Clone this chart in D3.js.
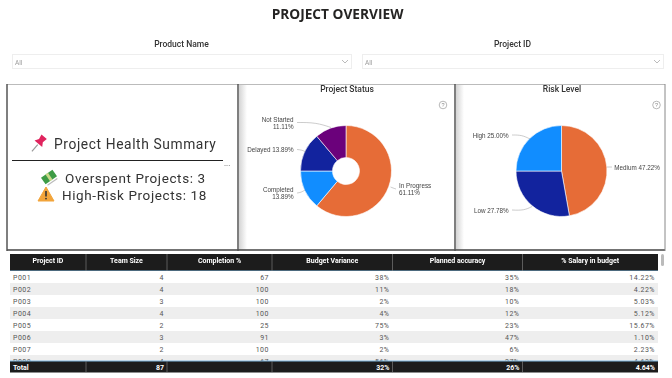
<!DOCTYPE html>
<html>
<head>
<meta charset="utf-8">
<script src="https://cdnjs.cloudflare.com/ajax/libs/d3/7.8.5/d3.min.js"></script>
<style>
  html, body { margin: 0; padding: 0; background: #fff; }
  svg { display: block; opacity: 0.999; }
</style>
</head>
<body>
<div id="chart"></div>
<script>
const statusLabels = ["In Progress", "Completed", "Delayed", "Not Started"];
const statusValues = [61.11, 13.89, 13.89, 11.11];
const riskLabels = ["Medium", "Low", "High"];
const riskValues = [47.22, 27.78, 25.00];

const columns = ["Project ID", "Team Size", "Completion %", "Budget Variance", "Planned accuracy", "% Salary in budget"];
const projectIds = ["P001", "P002", "P003", "P004", "P005", "P006", "P007", "P008"];
const teamSize = [4, 4, 3, 4, 2, 3, 2, 4];
const completion = [67, 100, 100, 100, 25, 91, 100, 67];
const budgetVariance = ["38%", "11%", "2%", "4%", "75%", "3%", "2%", "56%"];
const plannedAccuracy = ["35%", "18%", "10%", "12%", "23%", "47%", "6%", "27%"];
const salaryInBudget = ["14.22%", "4.22%", "5.03%", "5.12%", "15.67%", "1.10%", "2.23%", "4.63%"];
const totals = ["Total", "87", "", "32%", "26%", "4.64%"];

const width = 672;
const height = 378;
const din = "Roboto, sans-serif";
const arial = "'Liberation Sans', Arial, sans-serif";
const orange = "#E66C37", blue = "#118DFF", navy = "#12239E", purple = "#6B007B";

const svg = d3.select("#chart").append("svg")
  .attr("width", width)
  .attr("height", height);

const defs = svg.append("defs");
const shade = defs.append("linearGradient").attr("id", "shade");
shade.append("stop").attr("offset", 0).attr("stop-color", "#d4d4d4");
shade.append("stop").attr("offset", 1).attr("stop-color", "#fff");
defs.append("clipPath").attr("id", "rowsClip").append("rect")
  .attr("x", 10).attr("y", 271).attr("width", 648).attr("height", 90);

// title and slicers
svg.append("text").attr("x", 337.5).attr("y", 19)
  .attr("text-anchor", "middle")
  .style("font", "bold 13.7px 'Open Sans', sans-serif").style("fill", "#252423")
  .text("PROJECT OVERVIEW");

const slicers = [
  { name: "Product Name", x: 12, w: 339 },
  { name: "Project ID", x: 362, w: 301 }
];
slicers.forEach(s => {
  svg.append("text").attr("x", s.x + s.w / 2).attr("y", 47)
    .attr("text-anchor", "middle")
    .style("font", "500 8.5px " + din).style("fill", "#333")
    .text(s.name);
  svg.append("rect").attr("x", s.x + 0.5).attr("y", 54.5).attr("width", s.w).attr("height", 14)
    .attr("fill", "#fff").attr("stroke", "#eee");
  svg.append("text").attr("x", s.x + 3).attr("y", 64.5)
    .style("font", "6.5px " + din).style("fill", "#999").text("All");
  const cx = s.x + s.w - 6;
  svg.append("path").attr("d", d3.line()([[cx - 3, 60], [cx, 63], [cx + 3, 60]]))
    .attr("fill", "none").attr("stroke", "#aaa").attr("stroke-width", 0.8);
});

// panels
const panels = [
  { x: 7, w: 231 },
  { x: 238, w: 217 },
  { x: 455, w: 210 }
];
panels.forEach((p, i) => {
  if (i > 0) {
    svg.append("rect").attr("x", p.x + 1).attr("y", 85).attr("width", 8).attr("height", 165)
      .attr("fill", "url(#shade)");
  }
});
svg.append("line").attr("x1", 7).attr("x2", 665).attr("y1", 84.5).attr("y2", 84.5)
  .attr("stroke", "#bbb");
svg.append("line").attr("x1", 7).attr("x2", 665).attr("y1", 250).attr("y2", 250)
  .attr("stroke", "#444").attr("stroke-width", 1.5);
[7, 238, 455, 665].forEach((x, i) => {
  svg.append("line").attr("x1", x).attr("x2", x).attr("y1", 84).attr("y2", 251)
    .attr("stroke", i == 3 ? "#888" : "#555").attr("stroke-width", i == 3 ? 1 : 1.5);
});

// summary card
const summaryText = (x, y, size, txt) => svg.append("text")
  .attr("x", x).attr("y", y)
  .style("font", size + "px " + din).style("fill", "#333")
  .style("letter-spacing", "0.6px")
  .text(txt);
summaryText(54, 148.5, 13.8, "Project Health Summary");
svg.append("line").attr("x1", 12).attr("x2", 223).attr("y1", 160.5).attr("y2", 160.5)
  .attr("stroke", "#222").attr("stroke-width", 1.2);
svg.append("text").attr("x", 224).attr("y", 166)
  .style("font", "8px " + din).style("fill", "#555").text("...");
summaryText(65, 183, 13.5, "Overspent Projects: 3");
summaryText(62, 200, 13.5, "High-Risk Projects: 18");

// pin icon
const pin = svg.append("g").attr("transform", "translate(39,143) rotate(40)");
pin.append("line").attr("x1", 0).attr("x2", 0).attr("y1", 2).attr("y2", 11).attr("stroke", "#999").attr("stroke-width", 1.2);
pin.append("path").attr("d", "M-3.5,-8H3.5L2.5,-3L5,1H-5L-2.5,-3Z").attr("fill", "#E0245E");
// money icon
const money = svg.append("g").attr("transform", "translate(49,177) rotate(-35)");
money.append("rect").attr("x", -7).attr("y", -4).attr("width", 14).attr("height", 8).attr("fill", "#3E9B45");
money.append("rect").attr("x", -1.5).attr("y", -4).attr("width", 3).attr("height", 8).attr("fill", "#C9D98A");
money.append("line").attr("x1", -6).attr("x2", 6).attr("y1", 6).attr("y2", 6).attr("stroke", "#bbb").attr("stroke-width", 1.2);
// warning icon
svg.append("path").attr("d", "M46,187L54,201H38Z").attr("fill", "#F2A43A")
  .attr("stroke", "#F2A43A").attr("stroke-linejoin", "round");
svg.append("rect").attr("x", 45.2).attr("y", 191).attr("width", 1.6).attr("height", 5.5).attr("fill", "#333");
svg.append("circle").attr("cx", 46).attr("cy", 198.6).attr("r", 0.9).attr("fill", "#333");

// pies
function drawPie(title, titleX, cx, labels, values, colors, inner, helpX) {
  svg.append("text").attr("x", titleX).attr("y", 92)
    .attr("text-anchor", "middle")
    .style("font", "500 8.5px " + din).style("fill", "#333")
    .text(title);

  const pie = d3.pie().sort(null)(values);
  const color = d3.scaleOrdinal().domain(labels).range(colors);
  const arc = d3.arc().innerRadius(inner).outerRadius(45.5);

  svg.append("g").attr("transform", `translate(${cx},171)`)
    .selectAll("path")
    .data(pie)
    .join("path")
    .attr("d", arc)
    .attr("fill", (d, i) => color(labels[i]))
    .attr("stroke", "#fff")
    .attr("stroke-width", 0.6);

  const help = svg.append("g").attr("transform", `translate(${helpX},105)`);
  help.append("circle").attr("r", 3.8).attr("fill", "none").attr("stroke", "#999").attr("stroke-width", 0.7);
  help.append("text").attr("y", 2).attr("text-anchor", "middle")
    .style("font", "5.5px " + arial).style("fill", "#888").text("?");
}

function pieLabel(lines, x, y, anchor, leader) {
  const t = svg.append("text").attr("text-anchor", anchor)
    .style("font", "6.3px " + arial).style("fill", "#444");
  lines.forEach((l, i) => t.append("tspan").attr("x", x).attr("y", y + i * 7.3).text(l));
  svg.append("path")
    .attr("d", d3.line().curve(d3.curveBasis)(leader))
    .attr("fill", "none").attr("stroke", "#999").attr("stroke-width", 0.5);
}

drawPie("Project Status", 347, 346, statusLabels, statusValues, [orange, blue, navy, purple], 13.5, 443);
drawPie("Risk Level", 562, 561.5, riskLabels, riskValues, [orange, navy, blue], 0, 656.5);

pieLabel([statusLabels[3], statusValues[3].toFixed(2) + "%"], 293.5, 121.5, "end", [[297, 122.5], [316, 122.5], [331, 127.5]]);
pieLabel([statusLabels[2] + " " + statusValues[2].toFixed(2) + "%"], 293.5, 151.5, "end", [[297, 149.5], [302, 150], [306, 152]]);
pieLabel([statusLabels[1], statusValues[1].toFixed(2) + "%"], 293.5, 191.5, "end", [[297, 193], [301, 192.5], [305, 190]]);
pieLabel([statusLabels[0], statusValues[0].toFixed(2) + "%"], 399, 187.5, "start", [[396, 189], [393, 188], [390.5, 187]]);
pieLabel([riskLabels[2] + " " + riskValues[2].toFixed(2) + "%"], 508.7, 137.5, "end", [[512, 135], [522, 135], [530, 139]]);
pieLabel([riskLabels[0] + " " + riskValues[0].toFixed(2) + "%"], 614.3, 169.5, "start", [[607, 167], [609, 167], [612, 167]]);
pieLabel([riskLabels[1] + " " + riskValues[1].toFixed(2) + "%"], 508.7, 213, "end", [[512, 210], [524, 210.5], [532, 206.5]]);

// table
const colEdges = [10, 86, 167, 272, 392.5, 522.5, 658];
const rows = projectIds.map((id, i) => [id, teamSize[i], completion[i], budgetVariance[i], plannedAccuracy[i], salaryInBudget[i]]);
const y = d3.scaleBand().domain(d3.range(rows.length)).range([271, 367]);

svg.append("rect").attr("x", 10).attr("y", 254).attr("width", 648).attr("height", 17).attr("fill", "#1c1c1c");
svg.append("rect").attr("x", 10).attr("y", 270.5).attr("width", 648).attr("height", 1).attr("fill", "#7FB8E0");

columns.forEach((c, i) => {
  svg.append("text")
    .attr("x", (colEdges[i] + colEdges[i + 1]) / 2).attr("y", 262.5)
    .attr("text-anchor", "middle")
    .style("font", "bold 7px " + din).style("fill", "#fff")
    .text(c);
});

const body = svg.append("g").attr("clip-path", "url(#rowsClip)");
body.selectAll(".row")
  .data(rows)
  .join("rect")
  .attr("class", "row")
  .attr("x", 10)
  .attr("y", (d, i) => y(i))
  .attr("width", 648)
  .attr("height", y.bandwidth())
  .attr("fill", (d, i) => i % 2 ? "#eeeeee" : "#fff");

rows.forEach((r, i) => {
  r.forEach((v, j) => {
    body.append("text")
      .attr("x", j == 0 ? colEdges[0] + 3 : colEdges[j + 1] - 3)
      .attr("y", y(i) + y.bandwidth() / 2 + 2.5)
      .attr("text-anchor", j == 0 ? "start" : "end")
      .style("font", "7px " + din).style("fill", "#555")
      .style("letter-spacing", "0.5px")
      .text(v);
  });
});

svg.append("rect").attr("x", 10).attr("y", 361).attr("width", 648).attr("height", 11.5).attr("fill", "#1c1c1c");
svg.append("rect").attr("x", 10).attr("y", 360.5).attr("width", 648).attr("height", 1).attr("fill", "#7FB8E0");
totals.forEach((v, j) => {
  svg.append("text")
    .attr("x", j == 0 ? colEdges[0] + 3 : colEdges[j + 1] - 3)
    .attr("y", 369.5)
    .attr("text-anchor", j == 0 ? "start" : "end")
    .style("font", "bold 7px " + din).style("fill", "#fff")
    .text(v);
});

colEdges.slice(1, -1).forEach(x => {
  svg.append("line").attr("x1", x).attr("x2", x).attr("y1", 254).attr("y2", 271).attr("stroke", "#888").attr("stroke-width", 0.6);
  svg.append("line").attr("x1", x).attr("x2", x).attr("y1", 361).attr("y2", 372.5).attr("stroke", "#888").attr("stroke-width", 0.6);
});

// scrollbar
svg.append("rect").attr("x", 661).attr("y", 254).attr("width", 3).attr("height", 12).attr("rx", 1.5).attr("fill", "#bbb");
</script>
</body>
</html>
